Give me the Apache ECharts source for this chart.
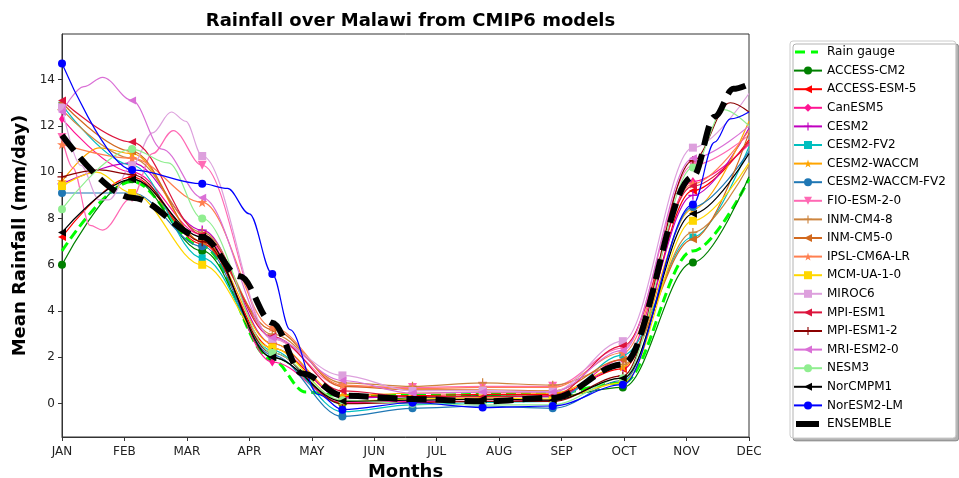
<!DOCTYPE html>
<html>
<head>
<meta charset="utf-8">
<script src="https://cdn.jsdelivr.net/npm/echarts@6/dist/echarts.min.js"></script>
<style>html,body{margin:0;padding:0;background:#fff;}#c{width:959px;height:478px;}</style>
</head>
<body>
<div id="c"></div>
<script>
// ---- data ----
const months = ['JAN','FEB','MAR','APR','MAY','JUN','JUL','AUG','SEP','OCT','NOV','DEC'];
const yTicks = [0, 2, 4, 6, 8, 10, 12, 14];
// x positions (in months) of the sampled points (marker positions + December end)
const xPos = [0, 1.122, 2.245, 3.367, 4.490, 5.612, 6.735, 7.857, 8.980, 10.102, 11];

const rainGauge     = [6.6, 9.6, 6.8, 1.9, 0.35, 0.35, 0.4, 0.45, 0.9, 6.6, 9.7];
const accessCM2     = [6.0, 9.7, 6.6, 2.0, 0.0, 0.25, 0.35, 0.3, 0.7, 6.1, 9.8];
const accessESM5    = [7.2, 9.8, 6.9, 2.4, 0.3, 0.35, 0.4, 0.4, 1.5, 9.2, 11.4];
const canESM5       = [12.3, 10.0, 7.3, 1.8, 0.05, 0.1, 0.1, 0.15, 1.9, 9.6, 11.2];
const cesm2         = [9.5, 10.4, 7.5, 2.6, 0.25, 0.3, 0.3, 0.3, 1.6, 9.0, 11.9];
const cesm2FV2      = [12.9, 10.3, 6.3, 2.3, -0.35, -0.05, 0.05, 0.1, 2.1, 7.2, 11.1];
const cesm2WACCM    = [9.6, 10.8, 7.0, 2.6, 0.35, 0.45, 0.5, 0.45, 1.6, 8.4, 12.2];
const cesm2WACCMFV2 = [9.1, 9.1, 6.8, 2.1, -0.55, -0.2, -0.1, -0.2, 1.0, 8.5, 10.9];
const fioESM20      = [11.5, 8.9, 10.3, 2.8, 0.75, 0.7, 0.75, 0.75, 2.4, 10.3, 11.6];
const inmCM48       = [12.7, 10.6, 7.4, 3.0, 0.9, 0.75, 0.9, 0.8, 1.7, 7.4, 10.3];
const inmCM50       = [13.0, 10.9, 7.0, 3.2, 0.75, 0.6, 0.6, 0.55, 1.9, 7.1, 11.7];
const ipslCM6ALR    = [11.2, 10.6, 8.7, 3.3, 0.8, 0.65, 0.7, 0.7, 2.2, 9.5, 11.8];
const mcmUA10       = [9.4, 9.1, 6.0, 2.4, 0.1, 0.2, 0.25, 0.2, 0.9, 7.9, 10.4];
const miroc6        = [12.8, 10.3, 10.7, 2.8, 1.22, 0.55, 0.57, 0.52, 2.7, 11.06, 13.4];
const mpiESM1       = [13.1, 11.3, 7.3, 2.9, 0.55, 0.3, 0.3, 0.35, 2.5, 9.4, 11.3];
const mpiESM12      = [9.8, 9.9, 7.0, 2.2, 0.0, 0.05, 0.1, 0.1, 1.2, 10.5, 12.6];
const mriESM20      = [12.6, 13.1, 8.9, 2.85, 1.0, 0.45, 0.5, 0.5, 2.3, 10.6, 12.0];
const nesm3         = [8.4, 11.0, 8.0, 2.2, 0.15, 0.0, -0.05, -0.05, 1.1, 10.2, 12.0];
const norCPM1       = [7.4, 9.7, 7.2, 2.0, 0.1, 0.15, 0.2, 0.15, 1.1, 8.2, 10.8];
const norESM2LM     = [14.7, 10.1, 9.5, 5.6, -0.26, 0.04, -0.17, -0.1, 0.82, 8.6, 12.6];
const ensemble      = [11.6, 8.9, 7.2, 3.5, 0.35, 0.2, 0.1, 0.25, 1.7, 9.8, 13.8];

// extra curve points (no marker) read between marker positions: [month, value]
const fioExtra      = [[0.17, 10.2], [0.45, 7.7], [0.65, 7.5], [1.45, 10.8], [1.78, 11.8]];
const mirocExtra    = [[0.3, 10.3], [0.6, 8.8], [0.75, 8.8], [1.45, 11.7], [1.75, 12.6], [1.98, 12.2]];
const mriExtra      = [[0.35, 13.7], [0.65, 14.1], [1.6, 11.0]];
const waccmExtra    = [[0.6, 11.05]];
const mcmExtra      = [[0.55, 10.0]];
const mpi12Extra    = [[0.6, 10.1], [10.7, 13.0]];
const nesmExtra     = [[1.7, 10.4], [10.6, 12.7]];
const norEsmExtra   = [[2.65, 9.3], [3.0, 8.2], [3.65, 3.2], [4.1, 0.4], [10.45, 11.3], [10.7, 12.3]];
const ensembleExtra = [[2.85, 5.5], [3.85, 1.3], [10.45, 12.4], [10.75, 13.6]];
const rainExtra     = [[3.9, 0.5]];

const seriesNames = ['Rain gauge','ACCESS-CM2','ACCESS-ESM-5','CanESM5','CESM2','CESM2-FV2','CESM2-WACCM',
  'CESM2-WACCM-FV2','FIO-ESM-2-0','INM-CM4-8','INM-CM5-0','IPSL-CM6A-LR','MCM-UA-1-0','MIROC6','MPI-ESM1',
  'MPI-ESM1-2','MRI-ESM2-0','NESM3','NorCMPM1','NorESM2-LM','ENSEMBLE'];
const seriesValues = [rainGauge, accessCM2, accessESM5, canESM5, cesm2, cesm2FV2, cesm2WACCM, cesm2WACCMFV2,
  fioESM20, inmCM48, inmCM50, ipslCM6ALR, mcmUA10, miroc6, mpiESM1, mpiESM12, mriESM20, nesm3, norCPM1,
  norESM2LM, ensemble];
const seriesExtras = [rainExtra, [], [], [], [], [], waccmExtra, [], fioExtra, [], [], [], mcmExtra, mirocExtra,
  [], mpi12Extra, mriExtra, nesmExtra, [], norEsmExtra, ensembleExtra];

// ---- styles ----
const SYM = {
  o: 'circle',
  left: 'path://M0,5L9,0L9,10Z',
  down: 'path://M0,0L10,0L5,9Z',
  d: 'diamond',
  plus: 'path://M4.3,0H5.7V4.3H10V5.7H5.7V10H4.3V5.7H0V4.3H4.3Z',
  s: 'rect',
  star: 'path://M5,0L6.2,3.6L10,3.6L6.9,5.9L8.1,9.5L5,7.3L1.9,9.5L3.1,5.9L0,3.6L3.8,3.6Z'
};
// legend handles for the two marker-less dashed series
const ICON_RAIN = 'path://M0,0h0.01v0.01z M28,10h-0.01v-0.01z M1,3.5H11V6.5H1Z M17,3.5H24V6.5H17Z';
const ICON_ENS = 'path://M0,0h0.01v0.01z M28,10h-0.01v-0.01z M2,2H25V8H2Z';
const styles = [
  {c:'#00ff00', w:3, dash:[10,5], sym:'none', icon: ICON_RAIN},
  {c:'#008000', sym:SYM.o, size:8},
  {c:'#ff0000', sym:SYM.left, size:8},
  {c:'#ff1493', sym:SYM.d, size:[6,9]},
  {c:'#bf00bf', sym:SYM.plus, size:9},
  {c:'#00bfbf', sym:SYM.s, size:7},
  {c:'#ffa500', sym:SYM.star, size:10},
  {c:'#1f77b4', sym:SYM.o, size:8},
  {c:'#ff69b4', sym:SYM.down, size:9},
  {c:'#cd853f', sym:SYM.plus, size:9},
  {c:'#d2691e', sym:SYM.left, size:8},
  {c:'#ff7f50', sym:SYM.star, size:10},
  {c:'#ffd700', sym:SYM.s, size:8},
  {c:'#dda0dd', sym:SYM.s, size:8},
  {c:'#dc143c', sym:SYM.left, size:8},
  {c:'#8b0000', sym:SYM.plus, size:9},
  {c:'#da70d6', sym:SYM.left, size:8},
  {c:'#90ee90', sym:SYM.o, size:8},
  {c:'#000000', sym:SYM.left, size:8},
  {c:'#0000ff', sym:SYM.o, size:8},
  {c:'#000000', w:6, dash:[20,9], sym:'none', icon: ICON_ENS}
];

const series = seriesNames.map((name, si) => {
  const st = styles[si];
  const vals = seriesValues[si];
  const noSym = st.sym === 'none';
  const pts = xPos.map((x, i) => (i < 10 && !noSym)
    ? {value: [x, vals[i]]}
    : {value: [x, vals[i]], symbol: 'none'});
  seriesExtras[si].forEach(p => pts.push({value: [p[0], p[1]], symbol: 'none'}));
  pts.sort((a, b) => a.value[0] - b.value[0]);
  return {
    name: name,
    type: 'line',
    data: pts,
    smooth: 0.35,
    smoothMonotone: 'x',
    showSymbol: !noSym,
    showAllSymbol: true,
    symbol: noSym ? 'circle' : st.sym,
    symbolSize: st.size || 8,
    itemStyle: {color: st.c, borderWidth: 0},
    lineStyle: {color: st.c, width: st.w || 1.2, type: st.dash || 'solid', cap: 'butt'},
    emphasis: {disabled: true},
    z: 2 + si * 0.01
  };
});

const legendData = seriesNames.map((name, si) => styles[si].icon
  ? {name: name, icon: styles[si].icon}
  : {name: name});

const chart = echarts.init(document.getElementById('c'), null, {renderer: 'canvas'});
chart.setOption({
  animation: false,
  backgroundColor: '#ffffff',
  textStyle: {fontFamily: 'DejaVu Sans'},
  title: {
    text: 'Rainfall over Malawi from CMIP6 models',
    left: 405.5, top: 7, textAlign: 'center',
    textStyle: {fontFamily: 'DejaVu Sans', fontWeight: 'bold', fontSize: 18, color: '#000'}
  },
  grid: {left: 62, right: 210, top: 34, bottom: 41, show: true, borderColor: '#333', borderWidth: 1,
    containLabel: false, outerBoundsMode: 'none'},
  xAxis: {
    type: 'value', min: 0, max: 11, interval: 1,
    name: 'Months', nameLocation: 'middle', nameGap: 25,
    nameTextStyle: {fontFamily: 'DejaVu Sans', fontWeight: 'bold', fontSize: 18, color: '#000'},
    axisLine: {show: true, onZero: false, lineStyle: {color: '#333', width: 1}},
    axisTick: {show: true, length: 4, lineStyle: {color: '#333'}},
    axisLabel: {margin: 9, fontSize: 12, color: '#222', fontFamily: 'DejaVu Sans',
      formatter: v => months[Math.round(v)]},
    splitLine: {show: false}
  },
  yAxis: {
    type: 'value', min: -1.44, max: 15.97,
    name: 'Mean Rainfall (mm/day)', nameLocation: 'middle', nameGap: 30, nameRotate: 90,
    nameTextStyle: {fontFamily: 'DejaVu Sans', fontWeight: 'bold', fontSize: 18, color: '#000'},
    axisLine: {show: true, onZero: false, lineStyle: {color: '#333', width: 1}},
    axisTick: {show: true, length: 4, lineStyle: {color: '#333'}, customValues: yTicks},
    axisLabel: {margin: 7, fontSize: 12, color: '#222', fontFamily: 'DejaVu Sans', customValues: yTicks},
    splitLine: {show: false}
  },
  legend: {
    orient: 'vertical', left: 790, top: 41,
    data: legendData,
    itemWidth: 28, itemHeight: 10, itemGap: 6.6,
    padding: [5, 10, 8, 3],
    backgroundColor: '#fff', borderColor: '#cccccc', borderWidth: 1, borderRadius: 3,
    shadowColor: 'rgba(0,0,0,0.3)', shadowOffsetX: 3, shadowOffsetY: 3, shadowBlur: 0,
    textStyle: {fontFamily: 'DejaVu Sans', fontSize: 12, color: '#000', lineHeight: 12},
    selectedMode: false
  },
  series: series
});
</script>
</body>
</html>
